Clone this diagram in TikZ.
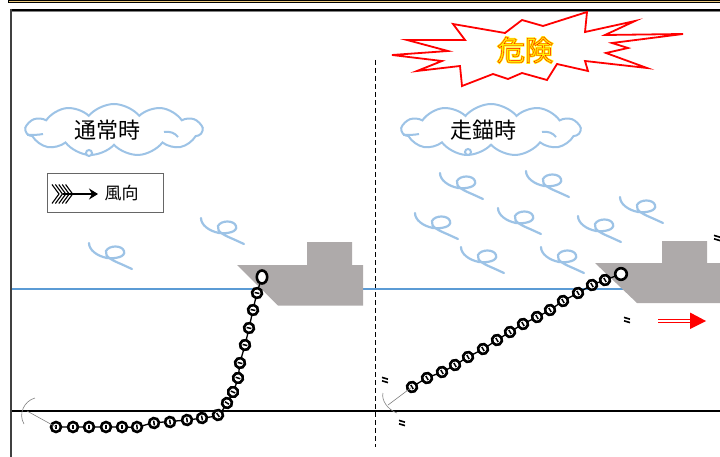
\documentclass[tikz,border=0pt]{standalone}
\usepackage{fontspec}
\newfontfamily\jp{Noto Sans CJK JP}
\newfontfamily\jpglow[FakeBold=7]{Noto Sans CJK JP}
\newfontfamily\jpline[FakeBold=1.2]{Noto Sans CJK JP}
\usetikzlibrary{shapes.symbols,arrows.meta}
\definecolor{sky}{RGB}{157,195,230}
\definecolor{sea}{RGB}{91,155,213}
\definecolor{hull}{RGB}{174,170,170}
\definecolor{gold}{RGB}{238,204,128}
\definecolor{boom}{RGB}{255,0,0}
\definecolor{glow}{RGB}{255,240,0}
\tikzset{
  swirl/.pic={\draw[sky,line width=2.2,line cap=round]
    (0,0) .. controls (0,7) and (8,13) .. (18,15)
          .. controls (26,16) and (37,14) .. (35,8)
          .. controls (33,2) and (20,2) .. (17,8)
          .. controls (15,14) and (25,18) .. (32,21) -- (43,26);},
  ring/.style={draw=black,fill=white,line width=2.6},
  stud/.style={line width=1.5},
  cable/.style={line width=1.3},
  fluke/.style={draw=gray,line width=0.6},
  shake/.style={line width=1.6},
  bubble/.style={cloud,cloud puffs=11,cloud puff arc=100,cloud ignores aspect,draw=sky,line width=2,fill=white},
  captext/.style={font=\jp\fontsize{22}{24}\selectfont},
}
\begin{document}
\begin{tikzpicture}[x=1pt,y=-1pt]
\useasboundingbox (0,0) rectangle (720,457);
% frame of the panel above and of this panel
\fill[gold] (8,0.6) rectangle (720,2.4);
\draw[line width=0.8] (8,0.4) -- (720,0.4);
\draw[line width=0.9] (8,2.8) -- (720,2.8);
\draw[line width=0.8] (8.4,0) -- (8.4,3);
\draw[line width=1.8] (10,9.8) -- (720,9.8);
\draw[gray,line width=1] (12,11.6) -- (720,11.6);
\draw[black!75,line width=2.4] (11,9) -- (11,457);
% divider
\draw[dashed,dash pattern=on 5pt off 3pt,line width=0.8] (375.5,60) -- (375.5,447);
% water surface and sea bed
\draw[sea,line width=1.2] (12,289) -- (720,289);
\draw[line width=1.6] (12,411) -- (720,411);
% ships
\fill[hull] (237,265) -- (307,265) -- (307,242) -- (352,242) -- (352,265) -- (363,265) -- (363,305.5) -- (278,305.5) -- cycle;
\fill[hull] (595,263) -- (662,263) -- (662,241) -- (707,241) -- (707,263) -- (720,263) -- (720,303) -- (637,303) -- cycle;
% wind
\foreach \p in {(89,243),(201,218),(440,173),(526,171),(620,197),(415,213),(498,208),(578,216),(461,247),(541,247)}
  {\pic at \p {swirl};}
% clouds with captions
\node[bubble,minimum width=176,minimum height=52] (c1) at (114,130) {};
\draw[sky,line width=2] (27,135) .. controls (33,135) and (38,135) .. (43,134);
\draw[sky,line width=2] (164,132) .. controls (170,131) and (175,133) .. (178,137);
\draw[sky,line width=2,fill=white] (89,153) circle (3);
\node[captext] (t1) at (107,130) {通常時};
\node[bubble,minimum width=178,minimum height=52] (c2) at (491,130) {};
\draw[sky,line width=2] (403,135) .. controls (409,135) and (414,135) .. (419,134);
\draw[sky,line width=2] (542,132) .. controls (548,131) and (553,133) .. (556,137);
\draw[sky,line width=2,fill=white] (468,152) circle (3);
\node[captext] (t2) at (483,130) {走錨時};
% legend
\node[draw=black!60,line width=0.6,minimum width=116,minimum height=39,inner sep=0] (legend) at (105,192.5) {};
\foreach \i in {0,...,4}
  {\draw[line width=1.1] (52+3.4*\i,184.5) -- (59+3.4*\i,194) -- (52+3.4*\i,203.5);}
\coordinate (tail) at (63,194);
\coordinate (head) at (98,194);
\draw[line width=1.1,-{Stealth[length=9,width=11,inset=3]}] (tail) -- (head);
\node[font=\jp\fontsize{17}{19}\selectfont,anchor=west] (wind) at (101,193) {風向};
% danger burst
\draw[boom,line width=1.8,fill=white,line join=miter]
  (392,55) -- (448,51) -- (407,40) -- (465,40) -- (453,24) -- (505,33) -- (522,20) -- (543,26)
  -- (587,12) -- (585,32) -- (635,21) -- (605,35) -- (683,34) -- (612,43) -- (628,48)
  -- (606,53) -- (647,68) -- (585,61) -- (588,71) -- (557,64) -- (547,80) -- (522,73)
  -- (508,79) -- (493,74) -- (462,86) -- (460,66) -- (417,71) -- (442,61) -- cycle;
\node[font=\jpglow\fontsize{28}{30}\selectfont,text=glow] (dangerglow) at (525,50) {危険};
\node[font=\jpline\fontsize{28}{30}\selectfont,text=glow] (danger) at (525,50)
  {\special{pdf:literal direct 1 0 0 RG}危険};
% normal mooring: chain lying on the bed
\draw[cable] plot[smooth] coordinates {(56,427) (89,427) (122,427) (137,427) (154,423) (187,420) (202,418) (218,415) (227,403) (233,392) (238,378) (240,363) (245,345) (249,328) (253,310) (257,293) (262,277)};
\foreach \x/\y/\a in {56/427/0,73/427/0,89/427/0,106/427/0,122/427/0,137/427/3,154/423/8,170/422/8,187/420/8,202/418/10,218/415/35,227/403/58,233/392/66,238/378/72,240/363/76,245/345/76,249/328/78,253/310/78,257/293/80}
  {\begin{scope}[shift={(\x,\y)},rotate=\a]
    \draw[ring] (0,0) circle (5);
    \draw[stud] (0,-2.4) -- (0,2.4);
  \end{scope}}
\draw[ring] (262,277) ellipse [x radius=5.2,y radius=6.5];
\draw[fluke] (56,427) -- (27,411);
\draw[fluke] (35,398) .. controls (24,401) and (18,414) .. (24,424);
% dragging anchor: chain pulled taut
\draw[cable] plot[smooth] coordinates {(412,387) (427,378) (442,372) (455,365) (468,357) (483,349) (497,340) (510,332) (523,324) (537,317) (550,310) (563,301) (578,293) (592,285) (605,280) (621,274)};
\foreach \x/\y in {412/387,427/378,442/372,455/365,468/357,483/349,497/340,510/332,523/324,537/317,550/310,563/301,578/293,592/285,605/280}
  {\begin{scope}[shift={(\x,\y)},rotate=30]
    \draw[ring] (0,0) circle (5);
    \draw[stud] (0,-2.4) -- (0,2.4);
  \end{scope}}
\draw[ring] (621,274) circle (5.8);
\draw[fluke] (412,387) -- (388,405);
\draw[fluke] (383,393) .. controls (381,400) and (388,410) .. (397,413);
% shaking marks
\foreach \cx/\cy in {385/380,402/423,627/320,717/238}
  {\begin{scope}[shift={(\cx,\cy)}]
    \draw[shake] (-3,-2.6) -- (3,-0.8);
    \draw[shake] (-3,0.8) -- (3,2.6);
  \end{scope}}
% drift direction
\coordinate (d0) at (658,321);
\coordinate (d1) at (691,321);
\draw[boom,double=white,double distance=2.2,line width=0.9] (d0) -- (d1);
\fill[boom] (690,312.5) -- (706,321) -- (690,329) -- cycle;
\end{tikzpicture}
\end{document}
